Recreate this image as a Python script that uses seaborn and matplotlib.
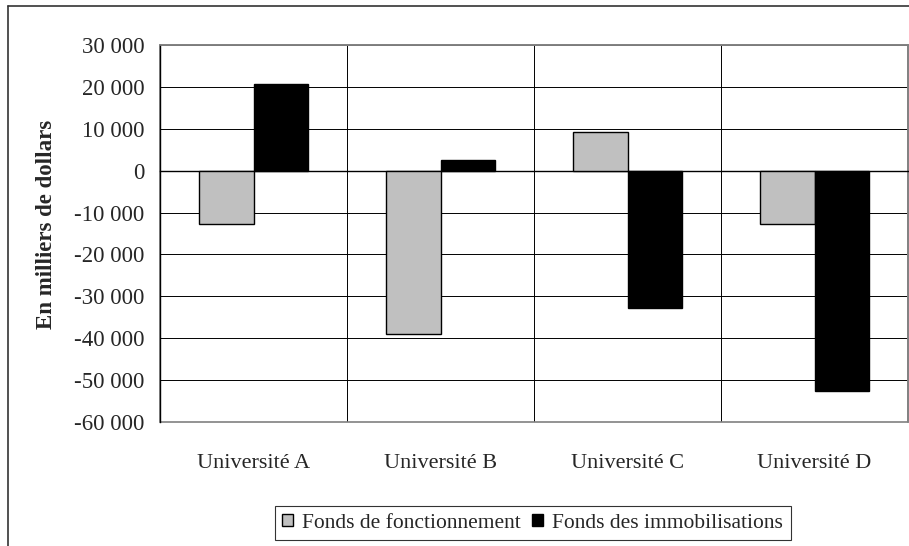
import numpy as np
import pandas as pd
import seaborn as sns
import matplotlib.pyplot as plt
from matplotlib.ticker import FuncFormatter, MultipleLocator
from matplotlib.lines import Line2D
from matplotlib.patches import Rectangle, Patch
from matplotlib.transforms import blended_transform_factory

sns.set_theme(style="white")
plt.rcParams['font.family'] = ['Liberation Serif', 'DejaVu Serif']

# valeurs (en milliers de dollars)
universites = ["Université A", "Université B", "Université C", "Université D"]
fonctionnement = [-12700, -39000, 9300, -12700]
immobilisations = [20800, 2600, -32700, -52500]
series = ["Fonds de fonctionnement", "Fonds des immobilisations"]
couleurs = ["#C0C0C0", "#000000"]

df = pd.DataFrame({
    "universite": universites * 2,
    "fonds": [series[0]] * 4 + [series[1]] * 4,
    "montant": fonctionnement + immobilisations,
})

fig = plt.figure(figsize=(9.09, 5.46), dpi=100)
ax = fig.add_axes([160/909, 1-422/546, 748/909, 377/546])

sns.barplot(data=df, x="universite", y="montant", hue="fonds", order=universites,
            hue_order=series, palette=couleurs, saturation=1, width=0.58,
            edgecolor="black", linewidth=1, legend=False, ax=ax, zorder=3)

ax.set_xlim(-0.5, 3.5)
ax.set_ylim(-60000, 30000)
ax.yaxis.set_major_locator(MultipleLocator(10000))
ax.yaxis.set_major_formatter(FuncFormatter(lambda v, p: f"{int(v):,}".replace(",", " ")))
ax.tick_params(axis='y', direction='out', length=5, width=0.8, color='black', pad=6, labelsize=16.5)
ax.set_xticks([-0.5, 0.5, 1.5, 2.5, 3.5])
ax.set_xticklabels([])
ax.tick_params(axis='x', direction='out', length=5, width=0.8, color='black')
ax.set_xlabel("")

# quadrillage
ax.grid(True, color='black', linewidth=0.7)
ax.set_axisbelow(True)

# bordures de la zone de traçage
for s in ['top', 'right']:
    ax.spines[s].set_color('#808080')
    ax.spines[s].set_linewidth(1.2)
ax.spines['left'].set_color('black')
ax.spines['left'].set_linewidth(1)
ax.spines['bottom'].set_position(('data', 0))
ax.spines['bottom'].set_color('black')
ax.spines['bottom'].set_linewidth(1)
ax.add_patch(Rectangle((0, 0), 1, 1, transform=ax.transAxes, fill=False,
                       edgecolor='#808080', linewidth=1.2, zorder=1, clip_on=False))

ax.set_ylabel("En milliers de dollars", fontsize=16.5, fontweight='bold')
ax.yaxis.set_label_coords(-0.138, 0.525)

trans = blended_transform_factory(ax.transData, ax.transAxes)
for i, u in enumerate(universites):
    ax.text(i, -0.109, u, transform=trans, ha='center', va='center', fontsize=16)

handles = [Patch(facecolor=c, edgecolor='black', linewidth=1) for c in couleurs]
leg = fig.legend(handles, series, loc='center', bbox_to_anchor=(0.586, 0.042), ncol=2,
                 fontsize=15.5, frameon=True, fancybox=False, edgecolor='black',
                 handlelength=0.52, handleheight=0.52, handletextpad=0.42,
                 columnspacing=0.5, borderpad=0.35, borderaxespad=0)
leg.get_frame().set_linewidth(0.8)

# cadre du graphique
fig.add_artist(Line2D([8/909, 8/909], [0, 1-6/546], color='#333333', linewidth=1.2))
fig.add_artist(Line2D([8/909, 1], [1-6/546, 1-6/546], color='#333333', linewidth=1.2))

fig.savefig("out.png", dpi=100)
